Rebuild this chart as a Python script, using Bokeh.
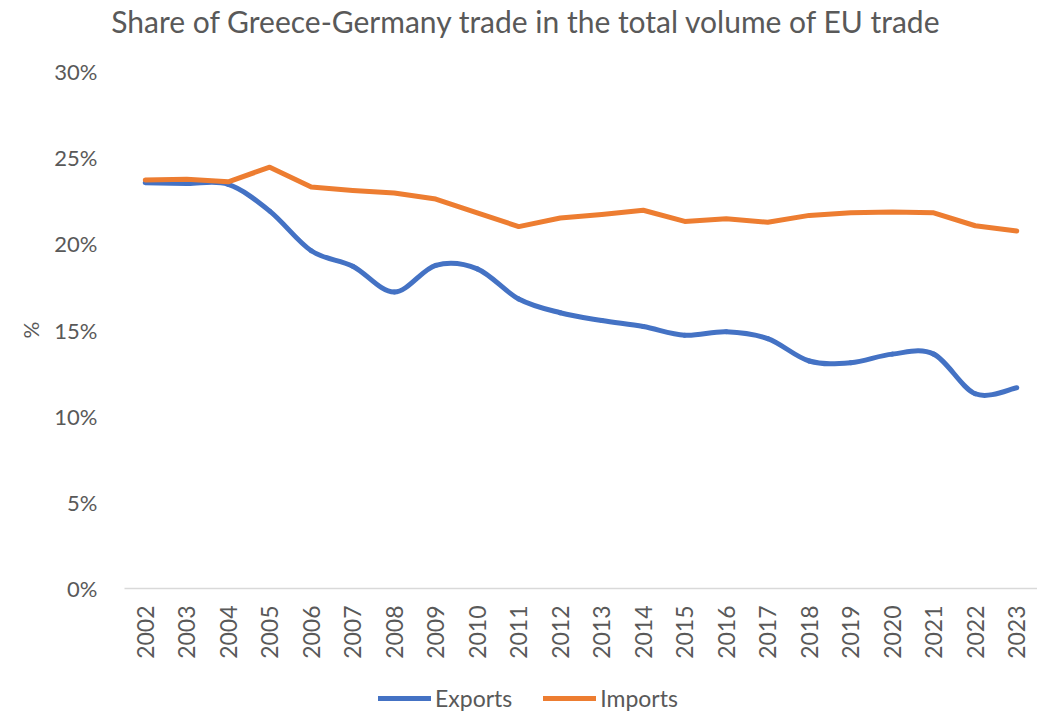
import numpy as np
from bokeh.plotting import figure
from bokeh.models import ColumnDataSource, Legend, LegendItem, Range1d
from bokeh.core.properties import value
from bokeh.embed import file_html
from bokeh.resources import INLINE

# ---------------- data ----------------
years = list(range(2002, 2024))
exports = [23.55, 23.5, 23.45, 21.9, 19.6, 18.7, 17.2, 18.75, 18.55, 16.8, 16.0,
           15.55, 15.2, 14.7, 14.9, 14.5, 13.2, 13.1, 13.6, 13.6, 11.3, 11.65]
imports = [23.7, 23.75, 23.6, 24.45, 23.3, 23.1, 22.95, 22.6, 21.8, 21.0, 21.5,
           21.7, 21.95, 21.3, 21.45, 21.25, 21.65, 21.8, 21.85, 21.8, 21.05, 20.75]
y_ticks = [0, 5, 10, 15, 20, 25, 30]
y_tick_labels = [f"{t}%" for t in y_ticks]
x_tick_labels = [str(yr) for yr in years]
title_text = "Share of Greece-Germany trade  in the total volume of EU trade"
y_axis_label = "%"

# ---------------- layout ----------------
FONT = "Lato"
GREY = "#595959"
W, H = 1037, 720          # canvas size
PL, PW = 124, 913         # plot area left / width (px)
PT, PB = 71, 588          # plot area top / bottom (px)

x_lo, x_hi = years[0] - 0.5, years[-1] + 0.5
y_lo, y_hi = y_ticks[0], y_ticks[-1]
ppx = PW / (x_hi - x_lo)
ppy = (PB - PT) / (y_hi - y_lo)

p = figure(width=W, height=H, output_backend="svg", toolbar_location=None,
           x_range=Range1d(x_lo - PL / ppx, x_lo + (W - PL) / ppx),
           y_range=Range1d(y_lo - (H - PB) / ppy, y_hi + PT / ppy),
           x_axis_location=None, y_axis_location=None, min_border=0)
p.outline_line_color = None
p.grid.visible = False
p.background_fill_color = "white"
p.border_fill_color = "white"

# axis base line (category axis)
p.segment(x0=[x_lo], y0=[y_lo], x1=[x_hi], y1=[y_lo], line_color="#D9D9D9",
          line_width=1.5)

# Exports: smoothed line (Catmull-Rom -> cubic Bezier segments)
x = np.array(years, dtype=float)
y = np.array(exports, dtype=float)
n = len(x)
xp = np.concatenate([[x[0]], x, [x[-1]]])
yp = np.concatenate([[y[0]], y, [y[-1]]])
x0 = x[:-1]; y0 = y[:-1]; x1 = x[1:]; y1 = y[1:]
cx0 = x0 + (xp[2:n + 1] - xp[0:n - 1]) / 6.0
cy0 = y0 + (yp[2:n + 1] - yp[0:n - 1]) / 6.0
cx1 = x1 - (xp[3:n + 2] - xp[1:n]) / 6.0
cy1 = y1 - (yp[3:n + 2] - yp[1:n]) / 6.0
src_e = ColumnDataSource(dict(x0=x0, y0=y0, x1=x1, y1=y1,
                              cx0=cx0, cy0=cy0, cx1=cx1, cy1=cy1))
r_e = p.bezier(x0="x0", y0="y0", x1="x1", y1="y1", cx0="cx0", cy0="cy0",
               cx1="cx1", cy1="cy1", source=src_e, line_color="#4472C4",
               line_width=5, line_cap="round")

# Imports: straight line
src_i = ColumnDataSource(dict(x=years, y=imports))
r_i = p.line("x", "y", source=src_i, line_color="#ED7D31", line_width=5,
             line_join="round", line_cap="round")

# y tick labels
src_yt = ColumnDataSource(dict(x=[x_lo] * len(y_ticks), y=y_ticks,
                               t=y_tick_labels))
p.text(x="x", y="y", text="t", source=src_yt, text_align="right",
       text_baseline="middle", x_offset=-27, text_font=value(FONT),
       text_font_size=value("22px"), text_color=GREY)

# x tick labels (vertical)
src_xt = ColumnDataSource(dict(x=years, y=[y_lo] * len(years),
                               t=x_tick_labels))
p.text(x="x", y="y", text="t", source=src_xt, angle=np.pi / 2,
       text_align="right", text_baseline="middle", y_offset=17,
       text_font=value(FONT), text_font_size=value("23px"), text_color=GREY)

# y axis title
p.text(x=[x_lo], y=[(y_lo + y_hi) / 2], text=[y_axis_label], angle=np.pi / 2,
       text_align="center", text_baseline="middle", x_offset=-94,
       text_font=value(FONT), text_font_size=value("21px"), text_color=GREY)

# chart title
p.text(x=[x_lo], y=[y_hi], text=[title_text], text_align="center",
       text_baseline="alphabetic", x_offset=406, y_offset=-51,
       text_font=value(FONT), text_font_size=value("30px"), text_color=GREY)

legend = Legend(items=[LegendItem(label="Exports", renderers=[r_e]),
                       LegendItem(label="Imports", renderers=[r_i])],
                orientation="horizontal", location=(378, 8),
                label_text_font=FONT, label_text_font_size="23px",
                label_text_color=GREY, glyph_width=53, glyph_height=28,
                label_height=28, label_standoff=4, spacing=31,
                border_line_color=None, background_fill_alpha=0,
                margin=0, padding=2)
p.add_layout(legend, "center")

open("out.html", "w").write(file_html(p, INLINE))
